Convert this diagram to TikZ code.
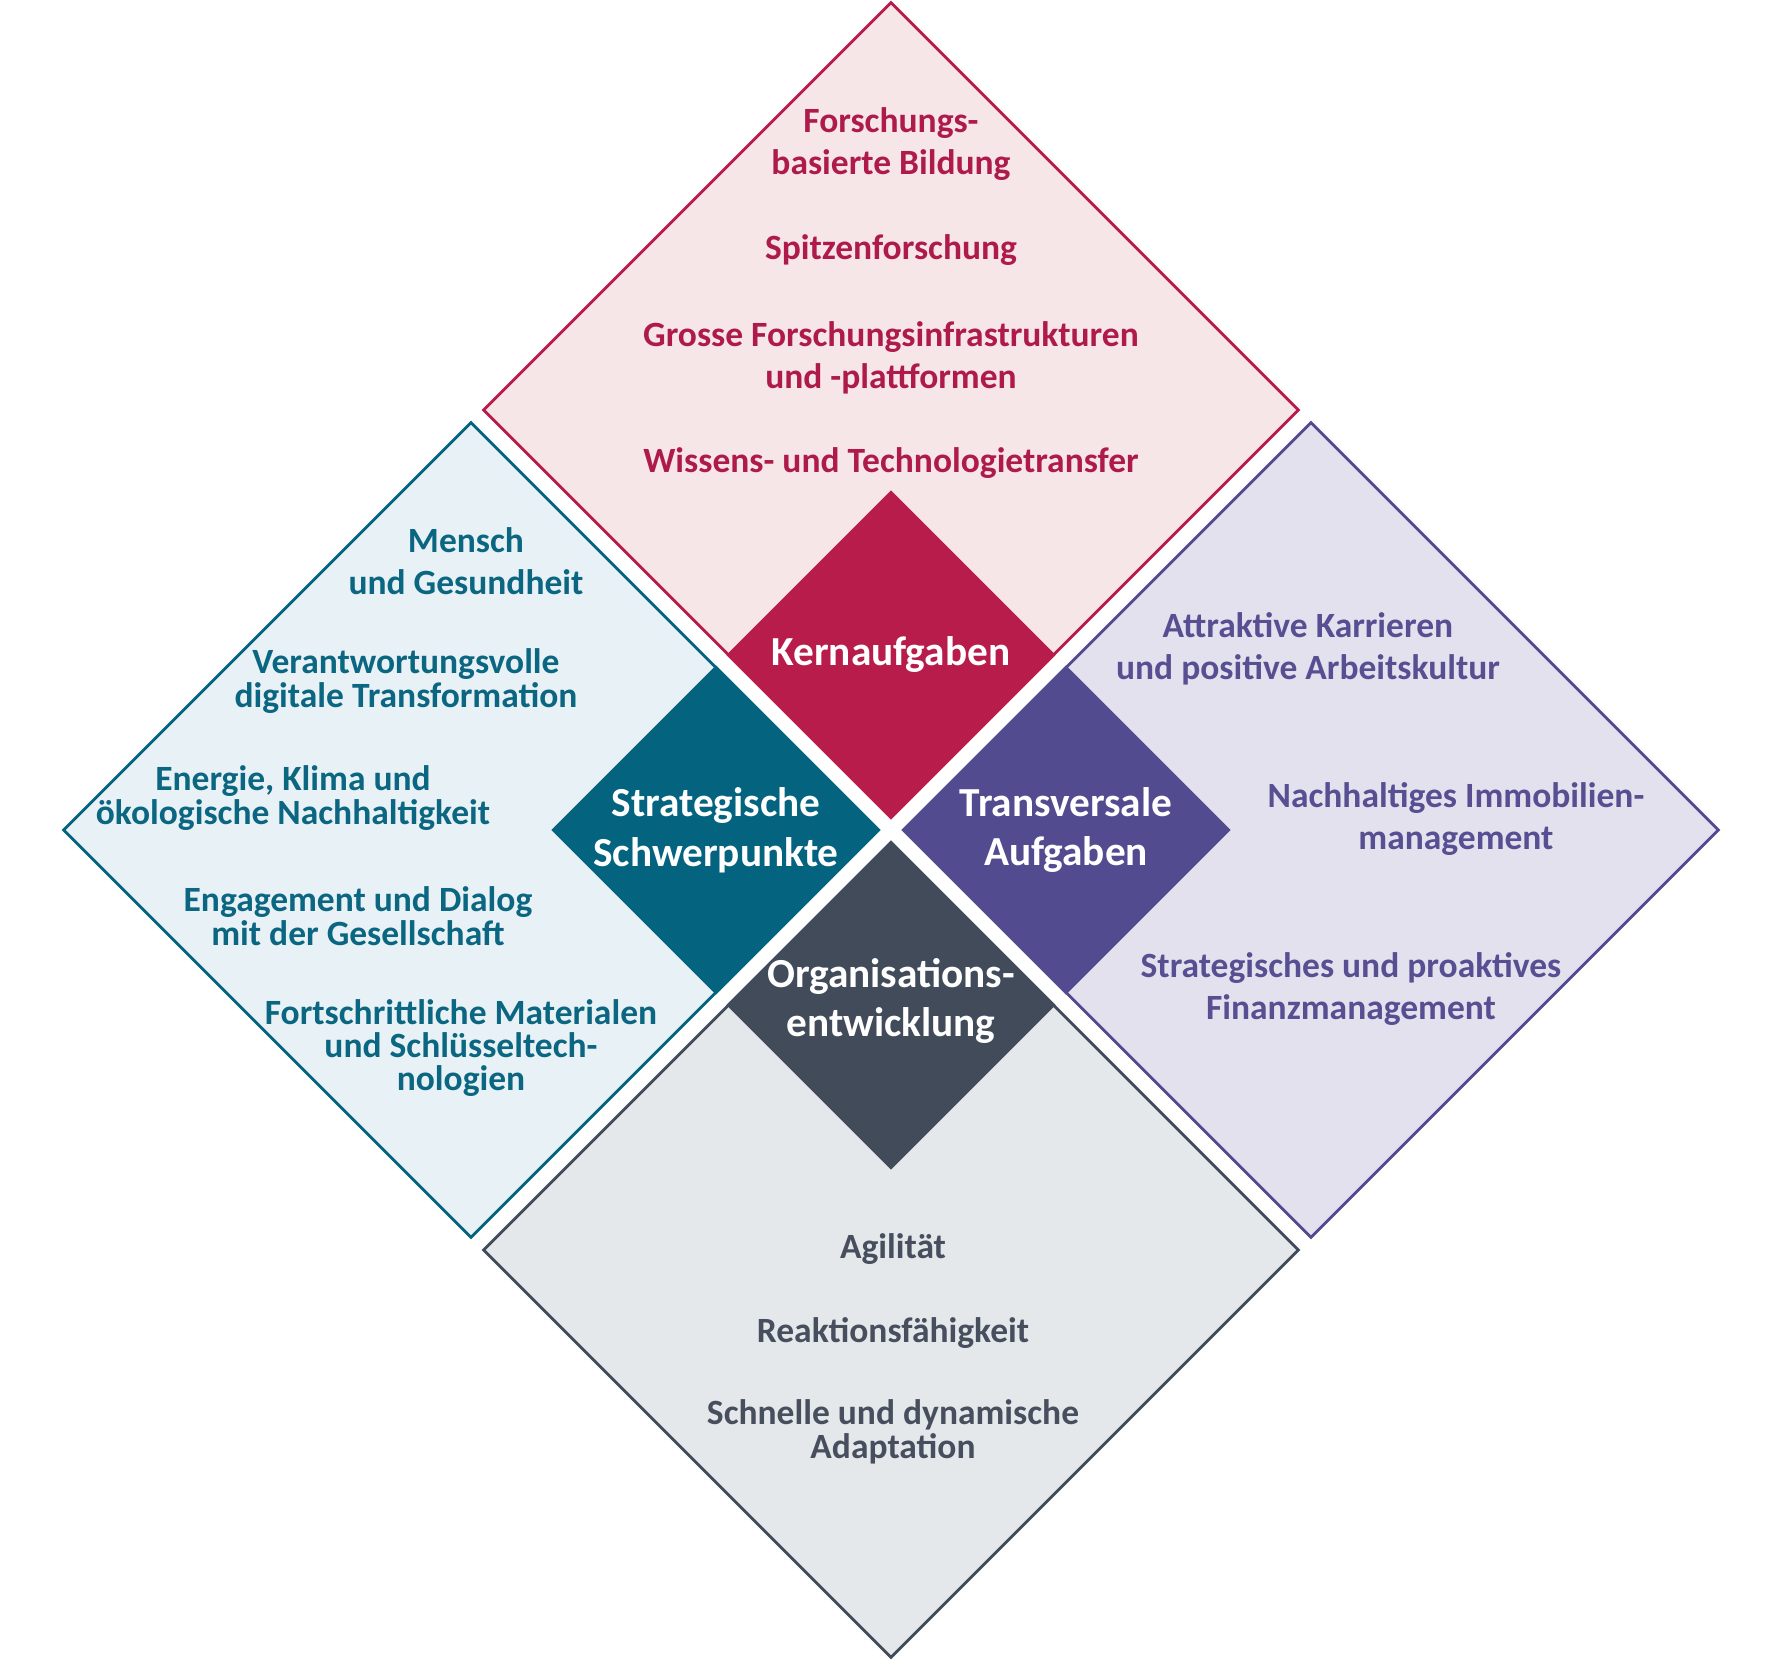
\documentclass[tikz,border=0pt]{standalone}
\usepackage{fontspec}
\setmainfont{Carlito}
\usetikzlibrary{shapes.geometric}

\definecolor{kernline}{HTML}{B71C4B}
\definecolor{kernfill}{HTML}{F6E6E8}
\definecolor{kerntext}{HTML}{AE1B4B}
\definecolor{stratline}{HTML}{04647F}
\definecolor{stratfill}{HTML}{E8F1F5}
\definecolor{strattext}{HTML}{0B6681}
\definecolor{transline}{HTML}{534B8F}
\definecolor{transfill}{HTML}{E4E1EE}
\definecolor{transtext}{HTML}{574F92}
\definecolor{orgaline}{HTML}{414B5A}
\definecolor{orgafill}{HTML}{E5E8EB}
\definecolor{orgatext}{HTML}{474F5E}

\begin{document}
\begin{tikzpicture}[
  outer/.style={diamond, aspect=1, minimum width=8.16cm, minimum height=8.16cm, inner sep=0pt, line width=0.8pt},
  inner/.style={diamond, aspect=1, minimum width=3.3cm, minimum height=3.3cm, inner sep=0pt},
  head/.style={text=white, align=center, font=\fontsize{11.75}{14.2}\selectfont\bfseries},
  item/.style={align=center, font=\fontsize{10.1}{9.5}\selectfont\bfseries\setlength\lineskiplimit{-10pt}},
  wide/.style={align=center, font=\fontsize{10.1}{11.9}\selectfont\bfseries}
]
  \useasboundingbox (-8.91,-8.32) rectangle (8.92,8.30);

  % big fields
  \node[outer, fill=kernfill, draw=kernline] (kernbg) at (0,4.2) {};
  \node[outer, fill=stratfill, draw=stratline] (stratbg) at (-4.2,0) {};
  \node[outer, fill=transfill, draw=transline] (transbg) at (4.2,0) {};
  \node[outer, fill=orgafill, draw=orgaline] (orgabg) at (0,-4.2) {};

  % centre squares
  \node[inner, fill=kernline] (kern) at (0,1.75) {};
  \node[inner, fill=stratline] (strat) at (-1.75,0) {};
  \node[inner, fill=transline] (trans) at (1.75,0) {};
  \node[inner, fill=orgaline] (orga) at (0,-1.75) {};

  \node[head] (kernlbl) at (kern) {Kernaufgaben};
  \node[head] (stratlbl) at (strat) {Strategische\\Schwerpunkte};
  \node[head] (translbl) at (trans) {Transversale\\Aufgaben};
  \node[head] (orgalbl) at (0,-1.71) {Organisations-\\entwicklung};

  % Kernaufgaben
  \node[wide, text=kerntext] (k1) at (0,6.86) {Forschungs-\\basierte Bildung};
  \node[wide, text=kerntext] (k2) at (0,5.80) {Spitzenforschung};
  \node[wide, text=kerntext] (k3) at (0,4.72) {Grosse Forschungsinfrastrukturen\\und -plattformen};
  \node[wide, text=kerntext] (k4) at (0,3.67) {Wissens- und Technologietransfer};

  % Strategische Schwerpunkte
  \node[wide, text=strattext] (s1) at (-4.25,2.69) {Mensch\\und Gesundheit};
  \node[item, text=strattext] (s2) at (-4.85,1.49) {Verantwortungsvolle\\digitale Transformation};
  \node[item, text=strattext] (s3) at (-5.98,0.32) {Energie, Klima und\\ökologische Nachhaltigkeit};
  \node[item, text=strattext] (s4) at (-5.33,-0.86) {Engagement und Dialog\\mit der Gesellschaft};
  \node[item, text=strattext] (s5) at (-4.30,-2.18) {Fortschrittliche Materialen\\und Schlüsseltech-\\nologien};

  % Transversale Aufgaben
  \node[wide, text=transtext] (t1) at (4.17,1.81) {Attraktive Karrieren\\und positive Arbeitskultur};
  \node[wide, text=transtext] (t2) at (5.65,0.11) {Nachhaltiges Immobilien-\\management};
  \node[wide, text=transtext] (t3) at (4.60,-1.59) {Strategisches und proaktives\\Finanzmanagement};

  % Organisationsentwicklung
  \node[wide, text=orgatext] (o1) at (0.02,-4.19) {Agilität};
  \node[wide, text=orgatext] (o2) at (0.02,-5.03) {Reaktionsfähigkeit};
  \node[item, text=orgatext] (o3) at (0.02,-6.02) {Schnelle und dynamische\\Adaptation};
\end{tikzpicture}
\end{document}
